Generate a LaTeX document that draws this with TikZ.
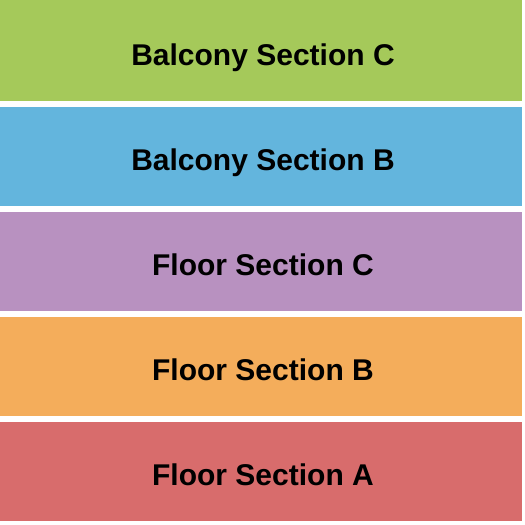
\documentclass[tikz,border=0pt]{standalone}
\usepackage{fontspec}
\setmainfont{Liberation Sans}
\definecolor{secgreen}{HTML}{A5C95A}
\definecolor{secblue}{HTML}{63B5DD}
\definecolor{secpurple}{HTML}{B891C0}
\definecolor{secorange}{HTML}{F4AD5B}
\definecolor{secred}{HTML}{D86C6C}
\tikzset{seclabel/.style={anchor=base,inner sep=0pt,font=\fontsize{30}{30}\selectfont\bfseries}}
\begin{document}
\begin{tikzpicture}[x=1pt,y=-1pt]
		\useasboundingbox (0,0) rectangle (525,525);
		\fill[secgreen] (0,0) rectangle (522,101);
		\fill[secblue] (0,107) rectangle (522,206);
		\fill[secpurple] (0,212) rectangle (522,311);
		\fill[secorange] (0,317) rectangle (522,416);
		\fill[secred] (0,422) rectangle (522,521);
		\node[seclabel] (balc) at (263,65) {Balcony Section C};
		\node[seclabel] (balb) at (263,170) {Balcony Section B};
		\node[seclabel] (flc) at (263,275) {Floor Section C};
		\node[seclabel] (flb) at (263,380) {Floor Section B};
		\node[seclabel] (fla) at (263,485) {Floor Section A};
  \end{tikzpicture}
\end{document}
